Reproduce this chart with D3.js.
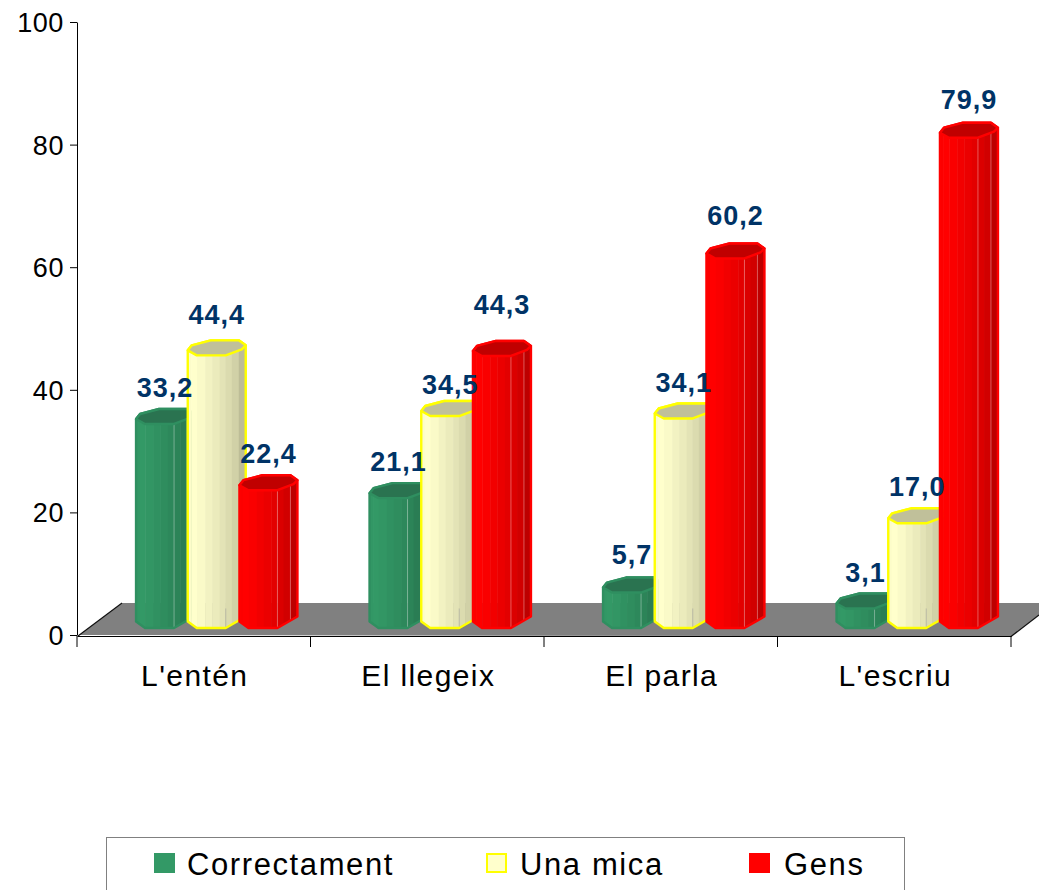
<!DOCTYPE html>
<html><head><meta charset="utf-8">
<script src="https://cdn.jsdelivr.net/npm/d3@7"></script>
<style>html,body{margin:0;padding:0;background:#fff}svg{display:block}text{font-family:"Liberation Sans",Arial,sans-serif}</style>
</head><body><svg id="c" width="1039" height="890"></svg>
<script>
const categories = ["L'entén","El llegeix","El parla","L'escriu"];
const seriesNames = ["Correctament","Una mica","Gens"];
const correctament = [33.2,21.1,5.7,3.1];
const unaMica = [44.4,34.5,34.1,17.0];
const gens = [22.4,44.3,60.2,79.9];
const yTicks = [0,20,40,60,80,100];
const seriesValues = [correctament,unaMica,gens];

const fills = ["#339966","#FFFFCC","#FF0000"];
const strokes = ["#2f8f60","#FFFF00","#FF0000"];
const tops = ["#2a7350","#C0C09A","#C00000"];
// hand placement of the value labels, as in the source chart (series by category)
const labelNudge = [[0,0,-2,1],[-4,5,1,0],[0,-15,-6,-2]];

const svg = d3.select("#c");
const x = d3.scaleBand().domain(categories).range([77,1011]).padding(0);
const y = d3.scaleLinear().domain([0,100]).range([635,22]);
const depth = 15.5;
const fmt = v => v.toFixed(1).replace(".",",");

// floor
const floorPts = [[79,635],[122,603],[1039,603],[1039,615],[1011,636.5]];
svg.append("path").attr("d",d3.line()(floorPts)+"Z").attr("fill","#808080");
svg.append("path").attr("d",d3.line()([[1039,615],[1011,636.5]])).attr("fill","none").attr("stroke","#111").attr("stroke-width",1.2);
svg.append("path").attr("d",d3.line()([[122,603],[78,636]])).attr("fill","none").attr("stroke","#111").attr("stroke-width",1.2);

// axes
const gy = svg.append("g").attr("transform","translate(77,0)").call(d3.axisLeft(y).tickValues(yTicks).tickSize(7).tickSizeOuter(0));
gy.selectAll("text").attr("font-size",27).attr("letter-spacing",.6).attr("fill","#000").attr("x",-13).attr("dy","0.35em");
const gx = svg.append("g").attr("transform","translate(0,636)").call(d3.axisBottom(x).tickValues([]).tickSize(0).tickSizeOuter(0));
gx.selectAll("line.m").data(d3.range(5)).enter().append("line").attr("class","m")
  .attr("x1",i=>77+i*x.step()).attr("x2",i=>77+i*x.step()).attr("y1",0).attr("y2",11).attr("stroke","#000");
svg.selectAll("text.cat").data(categories).enter().append("text").attr("class","cat")
  .attr("x",d=>x(d)+x.bandwidth()/2+1).attr("y",686).attr("text-anchor","middle").attr("font-size",30).attr("letter-spacing",1.4).text(d=>d);
svg.selectAll(".domain").attr("stroke","#000");

// prisms
const hw = 29;
const line = d3.line();
const topPoly = c => [[c-29,3],[c-25,-2],[c-6,-7],[c+22,-7],[c+29,-2],[c+25,2],[c+9,8],[c-20,8]];
const bands = [[0,.06,.99],[.06,.16,1],[.16,.3,.98],[.3,.42,.95],[.42,.55,.92],[.55,.65,.89],[.65,.76,.86],[.76,.88,.82],[.88,1,.74]];
const defs = svg.append("defs");
const barStep = 51.7;
const labels = [];
seriesValues.forEach((vals,s)=>{
  vals.forEach((v,i)=>{
    const c = x(categories[i]) + x.bandwidth()/2 + 23 + (s-1)*barStep;
    const yt = y(v) - depth, yb = y(0) - 16.5;
    const sil = [[c-hw,yt+3],[c-25,yt-2],[c-6,yt-7],[c+22,yt-7],[c+hw,yt-2],[c+hw,yb-2],[c+9,yb+9.5],[c-20,yb+9.5],[c-hw,yb+3]];
    const id = `b${s}_${i}`;
    defs.append("clipPath").attr("id",id).append("path").attr("d",line(sil)+"Z");
    const g = svg.append("g");
    const body = g.append("g").attr("clip-path",`url(#${id})`);
    bands.forEach(b=>{
      const col = d3.rgb(fills[s]);
      body.append("rect").attr("x",c-hw+b[0]*2*hw).attr("width",(b[1]-b[0])*2*hw+.5)
        .attr("y",yt-10).attr("height",yb-yt+25)
        .attr("fill",d3.rgb(col.r*b[2],col.g*b[2],col.b*b[2]));
    });
    if(s!==1){
      [9,22].forEach(dx=>body.append("line").attr("x1",c+dx).attr("x2",c+dx).attr("y1",yt).attr("y2",yb+9)
        .attr("stroke","#fff").attr("stroke-opacity",.35).attr("stroke-width",1));
    } else {
      body.append("line").attr("x1",c+9).attr("x2",c+9).attr("y1",yb-10).attr("y2",yb+9).attr("stroke","#999").attr("stroke-opacity",.5);
    }
    g.append("path").attr("d",line(sil)+"Z").attr("fill","none").attr("stroke",strokes[s]).attr("stroke-width",2.4).attr("stroke-linejoin","round");
    const tp = topPoly(c).map(p=>[p[0],p[1]+yt]);
    g.append("path").attr("d",line(tp)+"Z").attr("fill",tops[s]).attr("stroke",strokes[s]).attr("stroke-width",2.4).attr("stroke-linejoin","round");
    labels.push({c,yt,v,n:labelNudge[s][i]});
  });
});
svg.selectAll("text.val").data(labels).enter().append("text").attr("class","val")
  .attr("x",d=>d.c).attr("y",d=>d.yt-19+d.n).attr("text-anchor","middle")
  .attr("font-size",27).attr("letter-spacing",1).attr("font-weight","bold").attr("fill","#003366").text(d=>fmt(d.v));

// legend
svg.append("rect").attr("x",106.5).attr("y",837.5).attr("width",798).attr("height",60).attr("fill","#fff").attr("stroke","#808080").attr("stroke-width",1);
const swatchX = [154,486,749];
const textX = [187,520,784];
seriesNames.forEach((n,s)=>{
  const inset = s==1?1:0;
  svg.append("rect").attr("x",swatchX[s]+inset).attr("y",853+inset).attr("width",21-2*inset).attr("height",20-2*inset)
    .attr("fill",fills[s]).attr("stroke",s==1?"#FFFF00":"none").attr("stroke-width",2);
  svg.append("text").attr("x",textX[s]).attr("y",875).attr("font-size",31).attr("letter-spacing",1.6).attr("fill","#000").text(n);
});
</script></body></html>
